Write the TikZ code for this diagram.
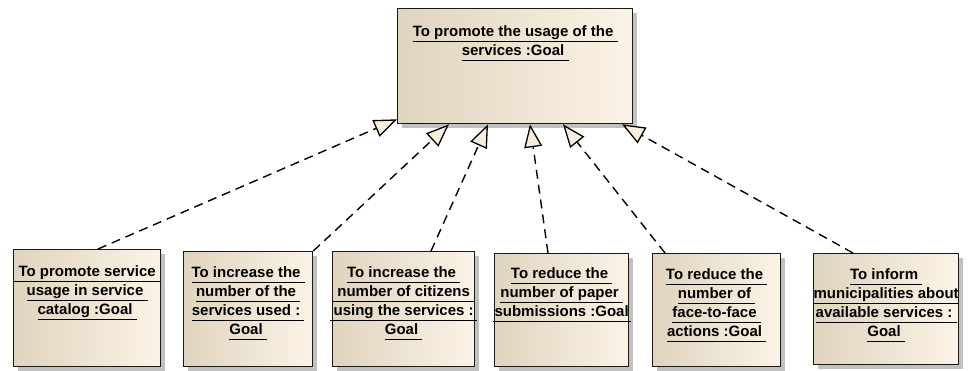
\documentclass[tikz,border=0pt]{standalone}
\usepackage{fontspec}
\setmainfont{Liberation Sans}
\usetikzlibrary{arrows.meta,shadows}
\definecolor{boxL}{RGB}{224,212,190}
\definecolor{boxR}{RGB}{251,243,230}
\definecolor{tipfill}{RGB}{248,238,222}
\newcommand\ulu[1]{\setbox0\hbox{#1}\rlap{\rule[-5.5pt]{\wd0}{1pt}}\box0}
\newcommand\ulw[2]{\setbox0\hbox{#2}\rlap{\kern\dimexpr(\wd0-#1)/2\relax\rule[-5.5pt]{#1}{1pt}}\box0}
\tikzset{
  goalbox/.style={draw=black!90, line width=1.3pt, anchor=north west, inner sep=0pt,
    left color=boxL, right color=boxR,
    drop shadow={shadow xshift=4pt, shadow yshift=-4pt, fill=black!35, opacity=0.7}},
  goaltext/.style={anchor=base, inner sep=0pt, font=\bfseries\fontsize{15}{19}\selectfont},
  realize/.style={line width=1.4pt, dash pattern=on 9pt off 6pt,
    -{Triangle[open, length=23pt, width=18pt, fill=tipfill, line width=1.3pt]}}
}
\setlength{\tabcolsep}{0pt}
\begin{document}
\begin{tikzpicture}[x=1pt,y=-1pt]
\useasboundingbox (0,0) rectangle (973,370);
% boxes
\node[goalbox, minimum width=235pt, minimum height=115pt] (top) at (397,8) {};
\node[goalbox, minimum width=147pt, minimum height=117pt] (b1) at (13,249) {};
\node[goalbox, minimum width=129pt, minimum height=115pt] (b2) at (183,251) {};
\node[goalbox, minimum width=142pt, minimum height=115pt] (b3) at (332,251) {};
\node[goalbox, minimum width=134pt, minimum height=113pt] (b4) at (494,253) {};
\node[goalbox, minimum width=128pt, minimum height=113pt] (b5) at (652,253) {};
\node[goalbox, minimum width=145pt, minimum height=111pt] (b6) at (813,253) {};
% texts
\node[goaltext] (ttop) at ([yshift=-28pt]top.north) {\begin{tabular}[t]{c}
\ulu{To promote the usage of the\ }\\ \ulu{services :Goal\ }\end{tabular}};
\node[goaltext] (t1) at ([yshift=-27pt]b1.north) {\begin{tabular}[t]{c}
\ulw{147pt}{To promote service}\\ \ulu{usage in service\ }\\ \ulu{catalog :Goal\ }\end{tabular}};
\node[goaltext] (t2) at ([yshift=-26pt]b2.north) {\begin{tabular}[t]{c}
\ulu{To increase the\ }\\ \ulu{number of the\ }\\ \ulu{services used :\ }\\ \ulu{Goal\ }\end{tabular}};
\node[goaltext] (t3) at ([yshift=-26pt]b3.north) {\begin{tabular}[t]{c}
\ulu{To increase the\ }\\ \ulw{142pt}{number of citizens}\\ \ulw{147pt}{using the services :}\\ \ulu{Goal\ }\end{tabular}};
\node[goaltext] (t4) at ([yshift=-25.5pt]b4.north) {\begin{tabular}[t]{c}
\ulu{To reduce the\ }\\ \ulu{number of paper\ }\\ \ulw{138pt}{submissions :Goal}\end{tabular}};
\node[goaltext] (t5) at ([yshift=-26pt]b5.north) {\begin{tabular}[t]{c}
\ulu{To reduce the\ }\\ \ulu{number of\ }\\ \ulu{face-to-face\ }\\ \ulu{actions :Goal\ }\end{tabular}};
\node[goaltext] (t6) at ([yshift=-26pt]b6.north) {\begin{tabular}[t]{c}
\ulu{To inform\ }\\ \ulw{145pt}{municipalities about}\\ \ulu{available services :\ }\\ \ulu{Goal\ }\end{tabular}};
% connectors
\draw[realize] ([xshift=85pt]b1.north west) -- ([yshift=5pt]top.south west);
\draw[realize] (b2.north east) -- ([xshift=52pt]top.south west);
\draw[realize] ([xshift=99pt]b3.north west) -- ([xshift=91pt]top.south west);
\draw[realize] ([xshift=54pt]b4.north west) -- ([xshift=133pt]top.south west);
\draw[realize] ([xshift=13pt]b5.north west) -- ([xshift=166pt]top.south west);
\draw[realize] ([xshift=40pt]b6.north west) -- ([xshift=225pt]top.south west);
\end{tikzpicture}
\end{document}
